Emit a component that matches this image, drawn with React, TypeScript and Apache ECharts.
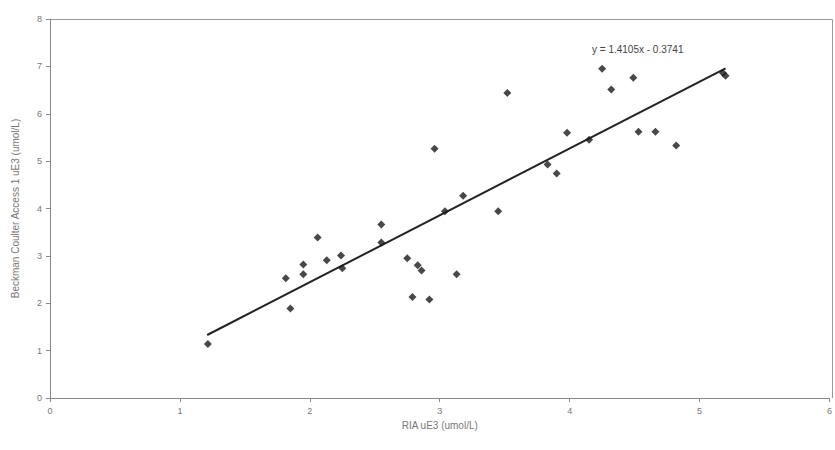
import React, { useEffect, useRef } from "react";
import * as echarts from "echarts";

const xTicks = [0, 1, 2, 3, 4, 5, 6];
const points: [number, number][] = [
  [1.215, 1.14], [1.815, 2.53], [1.85, 1.89], [1.95, 2.82], [1.95, 2.61],
  [2.06, 3.39], [2.13, 2.91], [2.24, 3.01], [2.25, 2.74], [2.55, 3.66],
  [2.55, 3.28], [2.75, 2.95], [2.79, 2.13], [2.83, 2.8], [2.86, 2.69],
  [2.92, 2.08], [2.96, 5.26], [3.04, 3.94], [3.13, 2.61], [3.18, 4.27],
  [3.45, 3.94], [3.52, 6.44], [3.83, 4.93], [3.9, 4.74], [3.98, 5.6],
  [4.15, 5.45], [4.25, 6.95], [4.32, 6.51], [4.49, 6.76], [4.53, 5.62],
  [4.66, 5.62], [4.82, 5.33], [5.18, 6.86], [5.2, 6.8],
];
const trend: [number, number][] = [[1.21, 1.33], [5.2, 6.96]];
const equation = "y = 1.4105x - 0.3741";

export default function App() {
  const ref = useRef<HTMLDivElement>(null);
  useEffect(() => {
    const chart = echarts.init(ref.current!, undefined, { renderer: "svg" });
    const axisCommon = {
      axisLine: { show: true, lineStyle: { color: "#888" } },
      axisTick: { show: true, length: 4, lineStyle: { color: "#888" } },
      axisLabel: { color: "#777", fontSize: 9, fontFamily: "Liberation Sans" },
      splitLine: { show: false },
      nameTextStyle: { color: "#777", fontSize: 10, fontFamily: "Liberation Sans" },
    };
    chart.setOption({
      animation: false,
      backgroundColor: "#fff",
      grid: { left: 50, right: 3, top: 19, bottom: 52 },
      xAxis: { type: "value", min: xTicks[0], max: xTicks[xTicks.length - 1], interval: 1, name: "RIA uE3 (umol/L)", nameLocation: "middle", nameGap: 22, ...axisCommon },
      yAxis: { type: "value", min: 0, max: 8, interval: 1, name: "Beckman Coulter Access 1 uE3 (umol/L)", nameLocation: "middle", nameGap: 30, ...axisCommon },
      series: [
        { type: "scatter", data: points, symbol: "diamond", symbolSize: 8, itemStyle: { color: "#1a1a1a" }, z: 3 },
        { type: "line", data: trend, symbol: "none", lineStyle: { color: "#222", width: 2 }, z: 3 },
      ],
      graphic: [
        { type: "line", shape: { x1: 50, y1: 19.5, x2: 832.5, y2: 19.5 }, style: { stroke: "#999", lineWidth: 1 }, z: 10 },
        { type: "line", shape: { x1: 832.5, y1: 19.5, x2: 832.5, y2: 398 }, style: { stroke: "#999", lineWidth: 1 }, z: 10 },
        { type: "text", left: 592, top: 44, style: { text: equation, fill: "#444", fontSize: 10, fontFamily: "Liberation Sans" } },
      ],
    });
    return () => chart.dispose();
  }, []);
  return <div ref={ref} style={{ width: 835, height: 450, position: "absolute", left: 0, top: 0 }} />;
}
